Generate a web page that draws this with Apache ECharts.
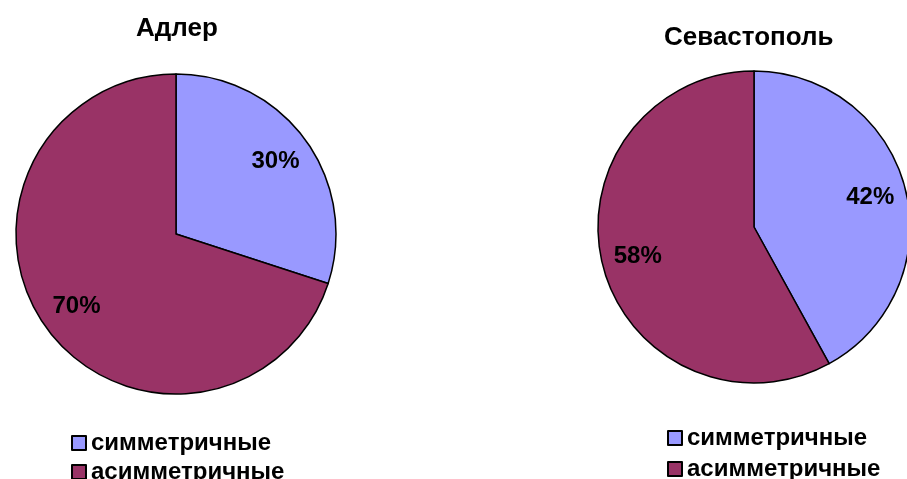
<!DOCTYPE html>
<html>
<head>
<meta charset="utf-8">
<style>
  html, body { margin: 0; padding: 0; background: #fff; }
  #chart { width: 907px; height: 479px; }
</style>
<script src="https://cdn.jsdelivr.net/npm/echarts@6/dist/echarts.min.js"></script>
</head>
<body>
<div id="chart"></div>
<script>
// Доля симметричных и асимметричных особей, %
const categories = ['симметричные', 'асимметричные'];
const adlerValues = [30, 70];
const sevastopolValues = [42, 58];
const titles = ['Адлер', 'Севастополь'];
const colors = ['#9999FF', '#993366'];

const font = '"Liberation Sans", Arial, sans-serif';

function pieData(values) {
  return categories.map((name, i) => ({ name: name, value: values[i] }));
}

// Filled pie with black outlines
function pieSeries(values, center, r) {
  return {
    type: 'pie',
    center: center,
    radius: [0, r],
    startAngle: 90,
    clockwise: true,
    silent: true,
    data: pieData(values),
    label: { show: false },
    labelLine: { show: false },
    itemStyle: { borderColor: '#000', borderWidth: 1.5 },
    emphasis: { disabled: true }
  };
}

// Transparent ring that only carries the percentage labels,
// so they sit at about three quarters of the radius
function labelSeries(values, center, r) {
  return {
    type: 'pie',
    center: center,
    radius: [r / 2, r],
    startAngle: 90,
    clockwise: true,
    silent: true,
    legendHoverLink: false,
    data: pieData(values),
    itemStyle: { color: 'transparent', borderWidth: 0 },
    label: {
      show: true,
      position: 'inside',
      formatter: '{c}%',
      fontFamily: font,
      fontWeight: 'bold',
      fontSize: 24,
      color: '#000'
    },
    labelLine: { show: false },
    emphasis: { disabled: true }
  };
}

// One legend entry per row, stacked under each pie
function legendRows(left, top, step) {
  return categories.map((name, i) => ({
    left: left,
    top: top + i * step,
    icon: 'rect',
    itemWidth: 14,
    itemHeight: 14,
    selectedMode: false,
    data: [name],
    itemStyle: { borderColor: '#000', borderWidth: 2 },
    textStyle: { fontFamily: font, fontWeight: 'bold', fontSize: 24, color: '#000' }
  }));
}

const titleStyle = { fontFamily: font, fontWeight: 'bold', fontSize: 26, color: '#000' };

const chart = echarts.init(document.getElementById('chart'), null, { renderer: 'canvas' });
chart.setOption({
  backgroundColor: '#fff',
  color: colors,
  animation: false,
  title: [
    { text: titles[0], left: 131, top: 11, textStyle: titleStyle },
    { text: titles[1], left: 659, top: 20, textStyle: titleStyle }
  ],
  legend: legendRows(66, 426, 29).concat(legendRows(662, 421, 31)),
  series: [
    pieSeries(adlerValues, [176, 234], 160),
    pieSeries(sevastopolValues, [754, 227], 156),
    labelSeries(adlerValues, [176, 234], 160),
    labelSeries(sevastopolValues, [754, 227], 156)
  ]
});
</script>
</body>
</html>
